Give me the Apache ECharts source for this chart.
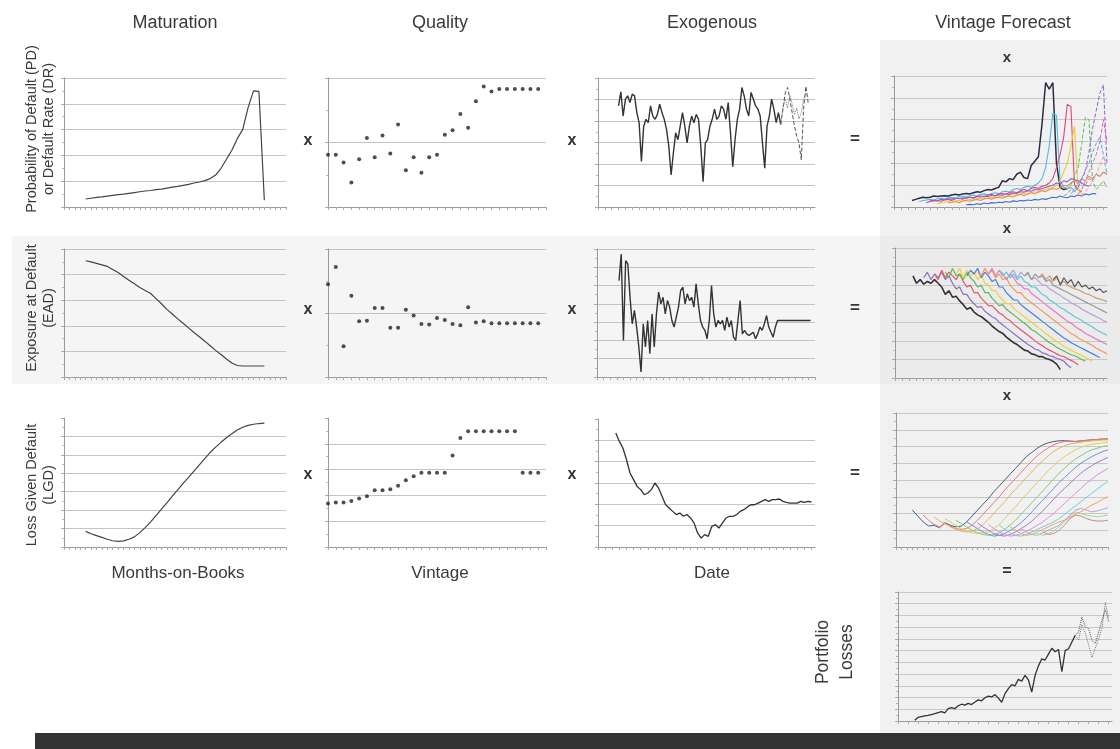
<!DOCTYPE html>
<html><head><meta charset="utf-8">
<script src="https://cdn.jsdelivr.net/npm/echarts@6/dist/echarts.min.js"></script>
<style>html,body{margin:0;padding:0;background:#fff}#c{width:1120px;height:749px}</style>
</head><body><div id="c"></div>
<script>
// ---------- text ----------
const columnTitles = ['Maturation', 'Quality', 'Exogenous', 'Vintage Forecast'];
const rowLabels = ['Probability of Default (PD)\nor Default Rate (DR)', 'Exposure at Default\n(EAD)', 'Loss Given Default\n(LGD)'];
const xLabels = ['Months-on-Books', 'Vintage', 'Date'];
const portfolioLabel = 'Portfolio\nLosses';

// ---------- Maturation (42 months-on-books, data from index 4) ----------
const matStart = 4;
const matPD = [0.31,0.34,0.37,0.39,0.42,0.45,0.48,0.5,0.53,0.56,0.59,0.62,0.64,0.67,0.69,0.73,0.77,0.8,0.84,0.88,0.93,0.97,1.02,1.1,1.24,1.5,1.85,2.2,2.65,3.0,3.85,4.5,4.48,0.26];
const matEAD = [4.54,4.5,4.44,4.38,4.32,4.2,4.08,3.93,3.78,3.64,3.5,3.38,3.26,3.06,2.86,2.64,2.46,2.27,2.1,1.92,1.74,1.57,1.4,1.22,1.04,0.88,0.7,0.55,0.45,0.43,0.43,0.43,0.43,0.43];
const matLGD = [0.85,0.72,0.62,0.52,0.42,0.34,0.31,0.33,0.42,0.55,0.78,1.05,1.36,1.7,2.05,2.4,2.76,3.1,3.45,3.78,4.12,4.46,4.8,5.13,5.42,5.68,5.93,6.15,6.35,6.5,6.6,6.66,6.7,6.72];

// ---------- Quality (28 vintages) ----------
const qualPD = [0.81,0.81,0.69,0.38,0.74,1.07,0.77,1.11,0.83,1.28,0.57,0.77,0.53,0.77,0.81,1.12,1.19,1.44,1.23,1.64,1.87,1.79,1.83,1.83,1.83,1.83,1.83,1.83];
const qualEAD = [1.45,1.72,0.48,1.27,0.87,0.88,1.08,1.08,0.77,0.77,1.05,0.96,0.83,0.82,0.92,0.89,0.83,0.81,1.09,0.85,0.87,0.84,0.84,0.84,0.84,0.84,0.84,0.84];
const qualLGD = [1.69,1.72,1.72,1.78,1.88,1.97,2.2,2.2,2.24,2.37,2.59,2.74,2.88,2.88,2.88,2.88,3.55,4.22,4.49,4.49,4.49,4.49,4.49,4.49,4.49,2.88,2.88,2.88];

// ---------- Exogenous (by date) ----------
const exogPDStart = 9;
const exogPD = [4.70,5.36,4.23,5.02,5.17,4.86,5.25,5.17,4.39,3.92,2.12,3.76,4.08,3.92,4.70,4.23,4.08,4.31,4.78,4.39,4.08,3.61,2.82,1.49,2.51,3.45,3.13,3.76,4.39,3.76,2.98,3.76,4.23,3.92,4.31,4.08,2.82,1.18,2.98,3.13,3.76,4.08,4.55,4.08,4.23,4.70,4.55,4.08,4.86,3.45,1.88,3.13,4.08,4.55,5.56,5.17,4.55,4.23,5.33,5.02,4.70,4.55,4.23,2.98,1.80,3.76,4.23,5.02,4.55,3.92,4.39,3.84];
const exogPDFcStart = 80;
const exogPDFcA = [3.84,4.55,5.33,5.56,5.02,4.39,3.76,3.29,2.98,2.19,4.55,5.61,4.86];
const exogPDFcB = [3.84,4.7,5.0,4.6,5.2,4.8,4.3,4.6,4.1,4.4,5.0,5.3,5.1];
const exogEADStart = 10;
const exogEAD = [5.27,6.73,2.0,6.36,6.18,4.36,2.91,3.64,2.73,1.64,0.27,2.91,1.64,3.09,1.27,3.45,1.64,3.45,4.64,4.0,4.36,3.45,4.18,3.82,3.09,2.73,3.27,3.82,4.73,4.91,4.0,4.55,4.18,4.36,3.82,5.09,4.0,3.09,2.73,2.55,2.09,3.09,5.0,3.45,2.73,3.09,2.91,3.09,2.55,3.27,2.73,3.09,2.18,2.0,3.09,4.18,2.36,2.55,2.36,2.27,2.36,2.45,2.09,2.36,2.73,2.55,2.91,3.36,2.73,2.45,2.18,2.73,3.09,3.09,3.09,3.09,3.09,3.09,3.09,3.09,3.09,3.09,3.09,3.09,3.09,3.09,3.09,3.09];
const exogLGDStart = 5;
const exogLGD = [5.34,4.95,4.64,4.1,3.47,3.16,2.84,2.69,2.45,2.53,2.69,3.0,2.77,2.38,1.98,1.83,1.67,1.52,1.59,1.44,1.52,1.36,1.13,0.66,0.42,0.58,0.5,0.97,1.05,0.89,1.13,1.36,1.44,1.44,1.52,1.67,1.75,1.88,1.98,1.98,2.06,2.14,2.22,2.14,2.22,2.22,2.25,2.14,2.09,2.06,2.06,2.06,2.14,2.09,2.14,2.11];

// ---------- Vintage forecast PD (60 dates) ----------
const vPDStarts = [5,7,9,12,15,20,10];
const vPDColors = ['#2b2b45','#49bde0','#e2457c','#eecb3a','#f08c56','#3d6fd0','#8b64c8'];
const vPD = [
 [0.3,0.35,0.4,0.45,0.42,0.45,0.5,0.48,0.5,0.52,0.5,0.55,0.58,0.55,0.6,0.62,0.6,0.65,0.7,0.68,0.75,0.8,0.78,0.85,0.9,1.2,1.15,1.3,1.25,1.5,1.6,1.35,1.3,1.9,2.1,2.3,3.8,5.7,5.4,5.7,2.0,0.9,0.8,0.85],
 [0.25,0.3,0.32,0.35,0.3,0.38,0.4,0.36,0.42,0.45,0.4,0.48,0.5,0.46,0.52,0.55,0.5,0.58,0.6,0.55,0.62,0.65,0.6,0.7,0.72,0.68,0.8,0.85,0.8,0.9,0.95,0.9,1.0,1.1,1.3,1.8,2.8,4.3,4.2,1.2,0.9,0.85,0.9,0.75],
 [0.2,0.25,0.28,0.3,0.26,0.32,0.35,0.3,0.38,0.4,0.36,0.42,0.45,0.4,0.48,0.5,0.46,0.55,0.58,0.52,0.6,0.62,0.58,0.66,0.7,0.65,0.75,0.8,0.75,0.85,0.9,0.85,0.95,1.0,1.1,1.3,1.8,2.4,3.2,4.7,4.6,1.0,0.8,0.7],
 [0.15,0.2,0.22,0.25,0.2,0.28,0.3,0.26,0.32,0.35,0.3,0.38,0.4,0.36,0.42,0.45,0.4,0.48,0.5,0.46,0.55,0.58,0.52,0.6,0.62,0.58,0.66,0.7,0.65,0.75,0.8,0.85,0.9,1.0,1.2,1.6,2.0,2.8,3.7,0.8,0.6,0.55],
 [0.2,0.22,0.25,0.2,0.28,0.3,0.26,0.32,0.35,0.3,0.38,0.4,0.36,0.42,0.45,0.4,0.48,0.5,0.46,0.55,0.58,0.52,0.6,0.65,0.6,0.7,0.75,0.7,0.8,0.85,0.8,0.9,1.0,0.95,1.1,1.2,1.1,1.3,1.2,1.4,1.3,1.5,1.4,1.6,1.5],
 [0.1,0.12,0.1,0.15,0.12,0.18,0.15,0.2,0.18,0.22,0.2,0.25,0.22,0.28,0.25,0.3,0.28,0.32,0.3,0.35,0.32,0.38,0.35,0.4,0.45,0.42,0.5,0.45,0.42,0.5,0.48,0.55,0.5,0.6,0.55,0.62,0.6],
 [0.3,0.32,0.28,0.35,0.33,0.38,0.36,0.4,0.38,0.42,0.4,0.45,0.43,0.48,0.46,0.5,0.48,0.53,0.5,0.56,0.54,0.6,0.58,0.64,0.62,0.7,0.68,0.75,0.72,0.8,0.78,0.85,0.9,0.95,1.0,1.1,1.05,1.2,1.15,1.3,1.25,1.2,1.1,1.0,0.95]
];
const vPDFcStarts = [48,50,49,51,47,52];
const vPDFcColors = ['#5cbf5c','#9160cf','#62a8de','#dd66bb','#9a9a9a','#f29aaa'];
const vPDFc = [
 [0.8,1.0,1.4,1.8,2.9,4.1,4.0,1.2,0.8,1.0,1.2,0.9],
 [0.7,0.9,1.3,1.6,2.5,3.6,4.4,5.2,5.6,2.0],
 [0.6,0.8,1.1,1.3,1.7,2.0,2.5,2.9,3.2,2.4,1.5],
 [0.6,0.8,1.2,1.6,2.0,2.4,3.0,4.0,3.0],
 [0.5,0.6,0.8,0.7,0.9,1.1,1.0,1.3,1.2,1.5,1.4,1.6,1.5],
 [0.5,0.7,0.9,1.2,1.5,1.9,2.3,2.0]
];

// ---------- Vintage forecast EAD (60 dates) ----------
const vEADStarts = [5,8,11,14,17,20,23,26,29,32,36,40,44];
const vEADColors = ['#333333','#8e6cc8','#e05a6a','#5cb85c','#f0d040','#4a7fd6','#f29a5e','#e27bbf','#5fc6dc','#b9a0dc','#999999','#c8a070','#555555'];
const vEAD = [
 [5.5,5.1,5.3,5.05,5.2,5.1,5.3,5.1,4.9,4.5,4.7,4.35,4.4,4.15,3.95,3.7,3.8,3.55,3.4,3.3,3.15,3.0,2.8,2.65,2.5,2.4,2.2,2.05,1.9,1.8,1.65,1.5,1.45,1.3,1.25,1.15,1.15,1.05,1.0,0.9,0.75,0.45],
 [5.4,5.7,5.3,5.6,5.4,5.7,5.3,5.5,5.1,4.8,4.9,4.5,4.5,4.2,4.0,3.8,3.85,3.6,3.45,3.3,3.2,3.0,2.85,2.7,2.55,2.4,2.25,2.1,1.95,1.8,1.7,1.55,1.5,1.35,1.3,1.2,1.15,1.05,1.0,0.9,0.7,0.55],
 [5.6,5.3,5.8,5.4,5.7,5.5,5.3,5.6,5.2,4.9,5.0,4.6,4.6,4.3,4.1,3.9,3.9,3.7,3.5,3.4,3.2,3.1,2.9,2.75,2.6,2.45,2.3,2.15,2.0,1.85,1.75,1.6,1.5,1.4,1.3,1.2,1.15,1.05,0.95,0.85,0.7],
 [5.7,5.4,5.9,5.5,5.6,5.3,5.7,5.4,5.2,4.9,5.0,4.6,4.6,4.3,4.1,3.9,3.95,3.7,3.55,3.4,3.25,3.1,2.95,2.8,2.6,2.5,2.35,2.2,2.05,1.9,1.8,1.65,1.55,1.45,1.35,1.25,1.2,1.1,1.0,0.9],
 [5.6,5.9,5.4,5.8,5.5,5.7,5.3,5.6,5.1,5.0,4.7,4.7,4.4,4.2,4.0,4.0,3.75,3.6,3.45,3.3,3.15,3.0,2.85,2.7,2.55,2.4,2.25,2.1,1.95,1.85,1.7,1.6,1.5,1.4,1.3,1.2,1.1,1.0,0.9],
 [5.5,5.8,5.6,5.9,5.4,5.7,5.5,5.2,5.3,4.9,4.9,4.6,4.4,4.2,4.2,3.95,3.8,3.65,3.5,3.35,3.2,3.05,2.9,2.75,2.6,2.45,2.3,2.15,2.05,1.9,1.8,1.7,1.6,1.5,1.4,1.3,1.2,1.1],
 [5.7,5.5,5.9,5.6,5.8,5.4,5.6,5.3,5.4,5.0,4.8,4.6,4.6,4.35,4.2,4.05,3.9,3.75,3.6,3.45,3.3,3.15,3.0,2.85,2.7,2.55,2.4,2.3,2.15,2.05,1.95,1.85,1.75,1.6,1.5,1.4,1.3],
 [5.6,5.9,5.5,5.8,5.6,5.3,5.6,5.4,5.1,5.0,4.8,4.8,4.55,4.4,4.25,4.1,3.95,3.8,3.65,3.5,3.35,3.2,3.05,2.95,2.8,2.65,2.55,2.4,2.3,2.2,2.1,2.0,1.9,1.8],
 [5.8,5.5,5.7,5.4,5.6,5.3,5.5,5.2,5.1,4.9,4.9,4.7,4.5,4.4,4.2,4.1,3.95,3.8,3.7,3.55,3.45,3.3,3.2,3.1,2.95,2.85,2.75,2.6,2.5,2.4,2.3],
 [5.6,5.8,5.4,5.7,5.5,5.6,5.3,5.4,5.2,5.0,5.0,4.8,4.7,4.55,4.45,4.3,4.2,4.05,3.95,3.85,3.7,3.6,3.5,3.4,3.3,3.2,3.1,3.0],
 [5.5,5.7,5.3,5.6,5.4,5.5,5.2,5.3,5.0,4.9,4.8,4.7,4.6,4.5,4.4,4.3,4.2,4.1,4.0,3.9,3.8,3.7,3.6,3.5],
 [5.4,5.6,5.3,5.5,5.2,5.4,5.1,5.2,5.0,4.9,4.8,4.75,4.65,4.55,4.5,4.4,4.3,4.25,4.2,4.1],
 [5.3,5.5,5.0,5.4,5.1,5.3,4.9,5.2,4.9,5.0,4.8,4.9,4.7,4.8,4.6,4.7]
];

// ---------- Vintage forecast LGD (40 dates) ----------
const vLGDStarts = [3,5,7,9,11,13,15,17,19,21,23,25,27];
const vLGDColors = ['#4a5a80','#e07b7b','#e6b35a','#d8d060','#86c96f','#6f93dc','#a57ad6','#e58fc9','#6ccfe0','#f2a35e','#b4a7d6','#9fd9a0','#c98a8a'];
const vLGD = [
 [2.2,1.85,1.5,1.25,1.3,1.15,1.45,1.3,1.2,1.25,1.5,1.85,2.2,2.55,2.9,3.3,3.65,4.0,4.35,4.7,5.05,5.4,5.65,5.9,6.1,6.22,6.3,6.34,6.35,6.32,6.3,6.33,6.37,6.4,6.42,6.44,6.45],
 [1.9,1.6,1.35,1.2,1.4,1.25,1.1,1.05,1.1,1.3,1.6,1.95,2.3,2.65,3.0,3.4,3.75,4.1,4.45,4.8,5.15,5.45,5.7,5.92,6.1,6.22,6.3,6.32,6.3,6.33,6.36,6.4,6.42,6.44,6.45],
 [1.8,1.55,1.4,1.2,1.05,0.95,0.9,0.95,1.1,1.35,1.65,2.0,2.35,2.7,3.1,3.45,3.8,4.15,4.5,4.85,5.15,5.45,5.7,5.9,6.05,6.15,6.2,6.25,6.3,6.33,6.36,6.38,6.4],
 [1.7,1.5,1.3,1.1,0.95,0.85,0.8,0.85,0.9,1.1,1.35,1.7,2.05,2.4,2.8,3.15,3.5,3.85,4.2,4.55,4.85,5.15,5.4,5.6,5.8,5.95,6.05,6.12,6.18,6.22,6.25],
 [1.6,1.4,1.2,1.0,0.85,0.75,0.7,0.75,0.85,1.05,1.3,1.6,1.95,2.3,2.65,3.0,3.35,3.7,4.05,4.4,4.7,5.0,5.25,5.45,5.65,5.8,5.9,6.0,6.05],
 [1.5,1.3,1.1,0.9,0.75,0.65,0.7,0.8,1.0,1.2,1.45,1.75,2.1,2.45,2.8,3.15,3.5,3.85,4.15,4.45,4.75,5.0,5.2,5.4,5.55,5.7,5.8],
 [1.45,1.2,1.0,0.8,0.7,0.65,0.75,0.9,1.1,1.3,1.55,1.85,2.15,2.5,2.85,3.2,3.5,3.8,4.1,4.4,4.65,4.85,5.05,5.2,5.35],
 [1.35,1.1,0.9,0.75,0.65,0.7,0.8,0.95,1.1,1.3,1.5,1.75,2.0,2.3,2.6,2.9,3.2,3.5,3.8,4.05,4.3,4.5,4.7],
 [1.3,1.05,0.85,0.7,0.65,0.75,0.9,1.05,1.2,1.35,1.5,1.7,1.95,2.2,2.45,2.7,2.95,3.2,3.45,3.7,3.9],
 [1.2,1.0,0.8,0.7,0.75,0.9,1.05,1.2,1.35,1.5,1.6,1.75,1.95,2.1,2.3,2.5,2.65,2.85,3.0],
 [1.1,0.9,0.75,0.7,0.85,1.0,1.15,1.3,1.6,1.9,2.2,2.3,2.2,2.1,2.15,2.25,2.35],
 [1.0,0.8,0.7,0.8,0.95,1.2,1.5,1.85,2.1,2.0,1.9,1.85,1.8,1.85,1.9],
 [0.9,0.75,0.8,1.0,1.3,1.7,1.9,1.85,1.7,1.6,1.55,1.55,1.6]
];

// ---------- Portfolio losses (65 dates) ----------
const portStart = 5;
const portLoss = [0.06,0.3,0.37,0.43,0.48,0.55,0.62,0.72,0.8,0.7,1.05,1.15,1.05,1.3,1.43,1.35,1.5,1.4,1.62,1.8,1.72,1.98,2.12,2.05,2.25,1.95,1.6,2.33,2.76,3.1,3.0,3.55,3.4,3.9,3.5,2.47,3.9,4.7,5.3,5.2,5.7,6.2,5.9,6.1,4.2,6.0,6.16,6.73,7.3];
const portFcStart = 53;
const portFcA = [7.3,7.6,8.86,8.0,7.9,6.88,6.6,7.6,8.58,9.5,8.5];
const portFcB = [7.3,6.9,8.2,7.5,6.5,5.4,6.2,7.0,7.9,10.1,8.8];

// ---------- build ----------
const FONT = '"Liberation Sans", Arial, sans-serif';
const grids = [], xAxes = [], yAxes = [], series = [];
function cats(n){ return Array.from({length:n}, (_, i) => String(i + 1)); }
function pad(start, vals, n){ const a = new Array(n).fill(null); vals.forEach((v, i) => { if (start + i < n) a[start + i] = v; }); return a; }
function panel(box, n, yMax, o){
  o = o || {};
  const gi = grids.length;
  grids.push({left: box[0], top: box[1], width: box[2], height: box[3]});
  xAxes.push({gridIndex: gi, type: 'category', data: cats(n), boundaryGap: false,
    axisLine: {lineStyle: {color: '#9a9a9a', width: 1}},
    axisTick: {show: true, interval: o.tick || 0, length: 3, lineStyle: {color: '#aaaaaa'}},
    axisLabel: {show: false}, splitLine: {show: false}});
  yAxes.push({gridIndex: gi, type: 'value', min: 0, max: yMax, interval: 1,
    axisLabel: {show: false},
    axisLine: {show: true, lineStyle: {color: '#9a9a9a', width: 1}},
    axisTick: {show: true, length: 3, lineStyle: {color: '#aaaaaa'}},
    minorTick: {show: true, splitNumber: 2, length: 2, lineStyle: {color: '#bbbbbb'}},
    splitLine: {show: true, showMaxLine: o.maxLine !== false, lineStyle: {color: o.gridColor || '#c4c4c4', width: 1}}});
  return {gi, n};
}
function line(p, data, color, width, type){
  series.push({type: 'line', xAxisIndex: p.gi, yAxisIndex: p.gi, data, symbol: 'none', showSymbol: false,
    lineStyle: {color, width, type: type || 'solid'}, silent: true, z: 3});
}
function dots(p, data){
  series.push({type: 'scatter', xAxisIndex: p.gi, yAxisIndex: p.gi, data, symbol: 'circle', symbolSize: 4,
    itemStyle: {color: '#222'}, silent: true, z: 3});
}

// row 1
const pMatPD = panel([64, 78, 222, 129], 42, 5);
line(pMatPD, pad(matStart, matPD, 42), '#444', 1.2);
const pQualPD = panel([328, 78, 218, 129], 29, 2);
dots(pQualPD, pad(0, qualPD, 29));
const pExogPD = panel([598, 78, 217, 129], 96, 6, {tick: 2});
line(pExogPD, pad(exogPDStart, exogPD, 96), '#333', 1.4);
line(pExogPD, pad(exogPDFcStart, exogPDFcA, 96), '#555', 1, 'dashed');
line(pExogPD, pad(exogPDFcStart, exogPDFcB, 96), '#777', 1, 'dotted');
const pVPD = panel([894, 76, 213, 131], 60, 6, {tick: 1, gridColor: '#c8c8c8'});
vPD.forEach((v, k) => line(pVPD, pad(vPDStarts[k], v, 60), vPDColors[k], k === 0 ? 1.5 : 1.1));
vPDFc.forEach((v, k) => line(pVPD, pad(vPDFcStarts[k], v, 60), vPDFcColors[k], 1, 'dashed'));

// row 2
const pMatEAD = panel([64, 249, 222, 128], 42, 5);
line(pMatEAD, pad(matStart, matEAD, 42), '#444', 1.2);
const pQualEAD = panel([328, 249, 218, 128], 29, 2);
dots(pQualEAD, pad(0, qualEAD, 29));
const pExogEAD = panel([597, 249, 218, 128], 100, 7, {tick: 2});
line(pExogEAD, pad(exogEADStart, exogEAD, 100), '#333', 1.4);
const pVEAD = panel([895, 248, 212, 130], 60, 7, {tick: 1, gridColor: '#c8c8c8'});
vEAD.forEach((v, k) => line(pVEAD, pad(vEADStarts[k], v, 60), vEADColors[k], k === 0 ? 1.6 : 1.2));

// row 3
const pMatLGD = panel([64, 418, 222, 129], 42, 7, {maxLine: false});
line(pMatLGD, pad(matStart, matLGD, 42), '#444', 1.2);
const pQualLGD = panel([328, 418, 218, 129], 29, 5, {maxLine: false});
dots(pQualLGD, pad(0, qualLGD, 29));
const pExogLGD = panel([598, 419, 217, 128], 62, 6, {tick: 1, maxLine: false});
line(pExogLGD, pad(exogLGDStart, exogLGD, 62), '#333', 1.3);
const pVLGD = panel([896, 413, 212, 134], 40, 8, {gridColor: '#c8c8c8'});
vLGD.forEach((v, k) => line(pVLGD, pad(vLGDStarts[k], v, 40), vLGDColors[k], 1));

// portfolio
const pPort = panel([898, 592, 214, 129], 65, 11, {tick: 2, gridColor: '#c8c8c8'});
line(pPort, pad(portStart, portLoss, 65), '#333', 1.3);
line(pPort, pad(portFcStart, portFcA, 65), '#555', 1, 'dotted');
line(pPort, pad(portFcStart, portFcB, 65), '#777', 1, 'dotted');

// ---------- graphics ----------
function txt(x, y, text, size, opts){
  opts = opts || {};
  return {type: 'text', x, y, z: 100, rotation: opts.rot || 0, silent: true,
    style: {text, font: (opts.weight || 'normal') + ' ' + size + 'px ' + FONT, fill: opts.color || '#333',
      align: 'center', verticalAlign: 'middle', textAlign: 'center', textVerticalAlign: 'middle',
      lineHeight: opts.lh || Math.round(size * 1.2)}};
}
const g = [];
g.push({type: 'rect', z: -10, silent: true, shape: {x: 12, y: 236, width: 868, height: 148}, style: {fill: '#f5f5f5'}});
g.push({type: 'rect', z: -10, silent: true, shape: {x: 880, y: 40, width: 240, height: 693}, style: {fill: '#f1f1f1'}});
g.push({type: 'rect', z: -9, silent: true, shape: {x: 880, y: 236, width: 240, height: 148}, style: {fill: '#ebebeb'}});
g.push({type: 'rect', z: -10, silent: true, shape: {x: 35, y: 733, width: 1085, height: 16}, style: {fill: '#333333'}});
const titleX = [175, 440, 712, 1003];
columnTitles.forEach((t, i) => g.push(txt(titleX[i], 23, t, 18, {color: '#3a3a3a'})));
const rowLabelY = [129, 308, 485];
rowLabels.forEach((t, i) => g.push(txt(40, rowLabelY[i], t, 14.5, {rot: Math.PI / 2, color: '#3a3a3a', lh: 17})));
const xLabelX = [178, 440, 712];
xLabels.forEach((t, i) => g.push(txt(xLabelX[i], 573, t, 17, {color: '#3a3a3a'})));
g.push(txt(835, 652, portfolioLabel, 17.5, {rot: Math.PI / 2, color: '#3a3a3a', lh: 24}));
const symY = [141, 310, 475];
symY.forEach(y => {
  g.push(txt(308, y, 'x', 16, {weight: 'bold'}));
  g.push(txt(572, y, 'x', 16, {weight: 'bold'}));
  g.push(txt(855, y - 2, '=', 17, {weight: 'bold'}));
});
[58, 229, 396].forEach(y => g.push(txt(1007, y, 'x', 15, {weight: 'bold'})));
g.push(txt(1007, 572, '=', 16, {weight: 'bold'}));

const chart = echarts.init(document.getElementById('c'), null, {renderer: 'canvas'});
chart.setOption({
  backgroundColor: '#ffffff',
  animation: false,
  grid: grids, xAxis: xAxes, yAxis: yAxes, series,
  graphic: {elements: g}
});
</script>
</body></html>
